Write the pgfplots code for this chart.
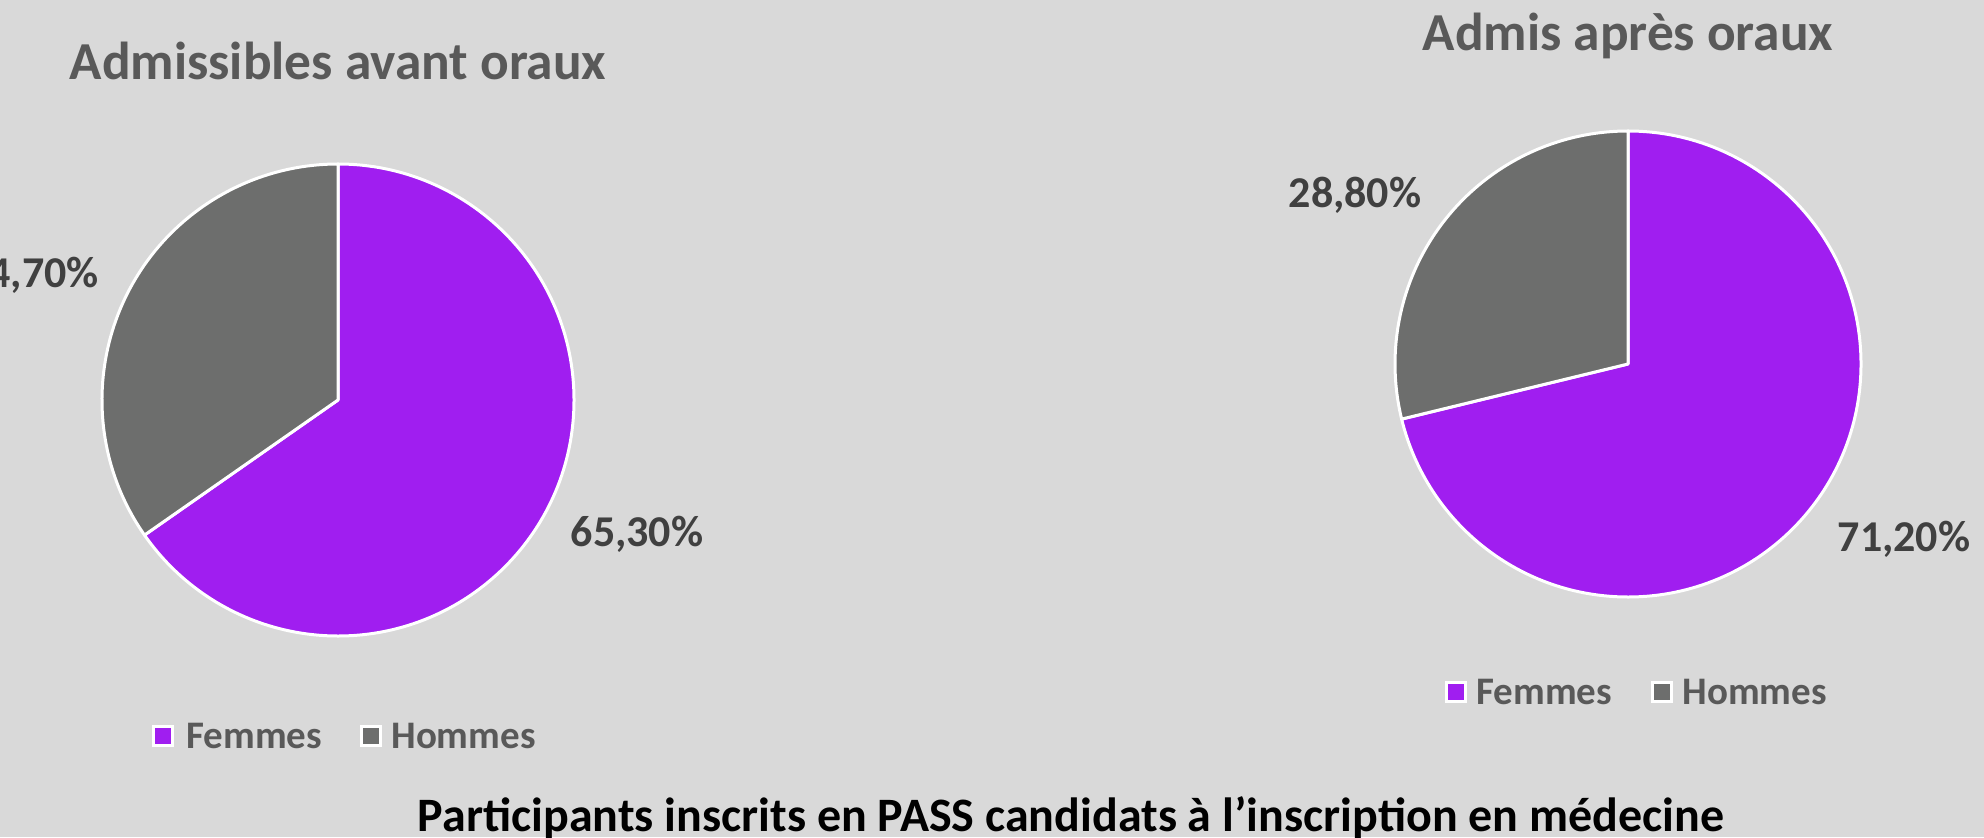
\documentclass[border=0pt]{standalone}
\usepackage{fontspec}
\setmainfont{Carlito}
\usepackage{pgfplots}
\pgfplotsset{compat=1.18}

\definecolor{bg}{HTML}{D9D9D9}
\definecolor{femmes}{HTML}{A01EF0}
\definecolor{hommes}{HTML}{6D6E6D}
\definecolor{titlegray}{HTML}{595959}
\definecolor{labelgray}{HTML}{404040}

% share of Femmes, in percent
\def\femAvant{65.3}
\def\femApres{71.2}

\newcommand{\pctfont}{\bfseries\fontsize{22}{22}\selectfont}
\newcommand{\legfont}{\bfseries\fontsize{19.5}{19.5}\selectfont}
\newcommand{\ttlfont}{\bfseries\fontsize{26.7}{26.7}\selectfont}

\begin{document}
\begin{tikzpicture}
\begin{axis}[
    x=0.5pt, y=0.5pt,
    xmin=0, xmax=1984, ymin=0, ymax=837,
    hide axis, clip=false,
  ]
  \fill[bg] (axis cs:0,0) rectangle (axis cs:1984,837);

  % --- Admissibles avant oraux
  \pgfmathsetmacro\angA{90-3.6*\femAvant}
  \filldraw[fill=femmes, draw=white, line width=1.5pt, line join=round]
    (axis cs:338,437) -- ++(90:118pt) arc[start angle=90, end angle=\angA, radius=118pt] -- cycle;
  \filldraw[fill=hommes, draw=white, line width=1.5pt, line join=round]
    (axis cs:338,437) -- ++(\angA:118pt) arc[start angle=\angA, end angle=-270, radius=118pt] -- cycle;
  \node[anchor=base, titlegray, font=\ttlfont] at (axis cs:338,757) {Admissibles avant oraux};
  \node[labelgray, font=\pctfont] at (axis cs:637,303) {65,30\%};
  \node[labelgray, font=\pctfont, anchor=east, overlay] at (axis cs:106,562) {34,70\%};

  \node[fill=femmes, draw=white, line width=1.5pt, minimum size=9.5pt, inner sep=0pt] at (axis cs:163,101) {};
  \node[anchor=west, titlegray, font=\legfont, inner sep=0pt] at (axis cs:186,101) {Femmes};
  \node[fill=hommes, draw=white, line width=1.5pt, minimum size=9.5pt, inner sep=0pt] at (axis cs:371,101) {};
  \node[anchor=west, titlegray, font=\legfont, inner sep=0pt] at (axis cs:391,101) {Hommes};

  % --- Admis après oraux
  \pgfmathsetmacro\angB{90-3.6*\femApres}
  \filldraw[fill=femmes, draw=white, line width=1.5pt, line join=round]
    (axis cs:1628,473) -- ++(90:116.5pt) arc[start angle=90, end angle=\angB, radius=116.5pt] -- cycle;
  \filldraw[fill=hommes, draw=white, line width=1.5pt, line join=round]
    (axis cs:1628,473) -- ++(\angB:116.5pt) arc[start angle=\angB, end angle=-270, radius=116.5pt] -- cycle;
  \node[anchor=base, titlegray, font=\ttlfont] at (axis cs:1628,786) {Admis après oraux};
  \node[labelgray, font=\pctfont] at (axis cs:1355,642) {28,80\%};
  \node[labelgray, font=\pctfont] at (axis cs:1904,298) {71,20\%};

  \node[fill=femmes, draw=white, line width=1.5pt, minimum size=9.5pt, inner sep=0pt] at (axis cs:1456,145) {};
  \node[anchor=west, titlegray, font=\legfont, inner sep=0pt] at (axis cs:1476,145) {Femmes};
  \node[fill=hommes, draw=white, line width=1.5pt, minimum size=9.5pt, inner sep=0pt] at (axis cs:1662,145) {};
  \node[anchor=west, titlegray, font=\legfont, inner sep=0pt] at (axis cs:1682,145) {Hommes};

  % --- overall title
  \node[anchor=base, black, overlay, font=\bfseries\fontsize{24}{24}\selectfont] at (axis cs:1071,6)
    {Participants inscrits en PASS candidats à l’inscription en médecine};
\end{axis}
\end{tikzpicture}
\end{document}
